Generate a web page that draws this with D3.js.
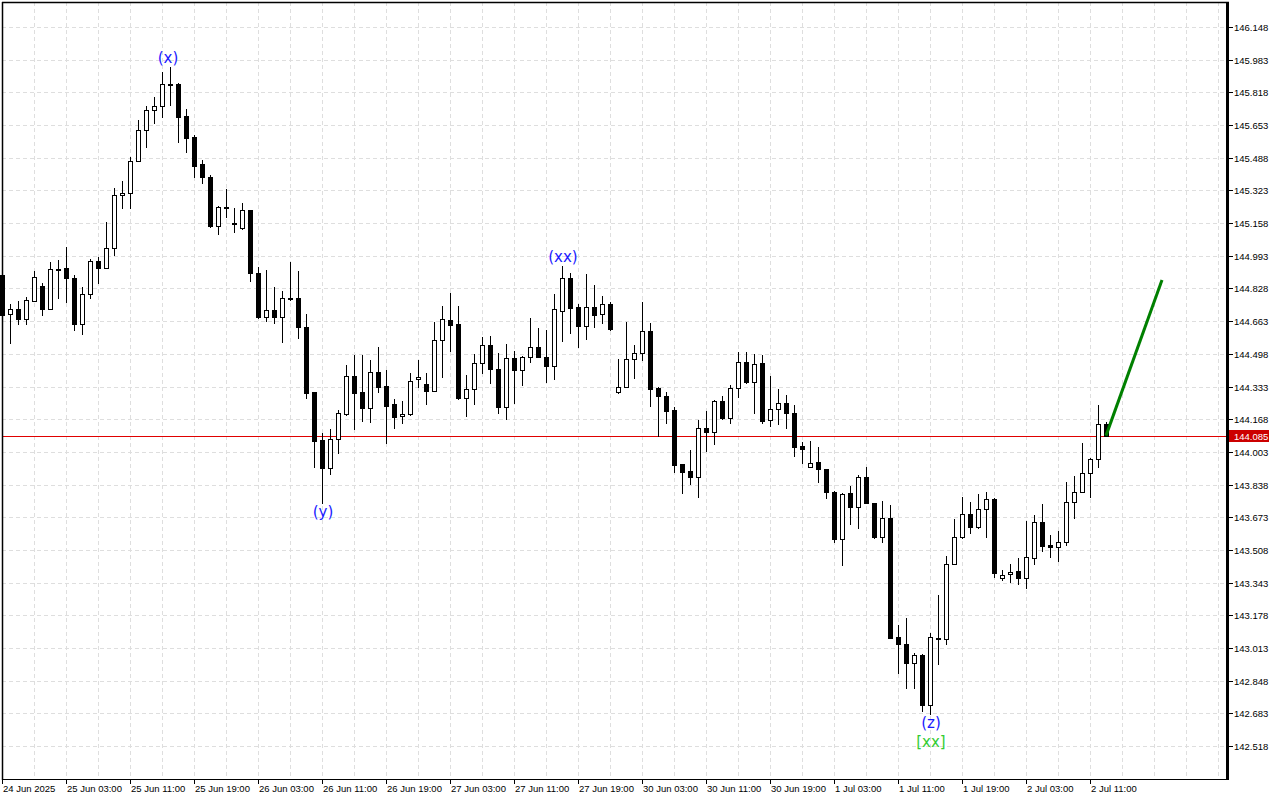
<!DOCTYPE html>
<html><head><meta charset="utf-8">
<script src="https://cdn.jsdelivr.net/npm/d3@7"></script>
<style>html,body{margin:0;padding:0;background:#fff;}svg{display:block;}</style>
</head><body>
<script>
// ---- DATA ----
const openP = [144.896,144.699,144.725,144.674,144.765,144.841,144.725,144.927,144.932,144.881,144.649,144.800,144.967,144.932,145.033,145.300,145.310,145.472,145.628,145.729,145.749,145.860,145.860,145.699,145.593,145.457,145.391,145.144,145.237,145.158,145.133,145.224,144.906,144.684,144.719,144.684,144.780,144.780,144.633,144.306,144.063,143.922,144.068,144.194,144.386,144.306,144.225,144.407,144.336,144.245,144.184,144.194,144.371,144.346,144.311,144.568,144.669,144.649,144.275,144.321,144.452,144.543,144.422,144.230,144.477,144.417,144.482,144.533,144.482,144.437,144.714,144.881,144.735,144.639,144.735,144.699,144.750,144.306,144.331,144.472,144.503,144.613,144.326,144.285,144.215,143.942,143.907,143.877,144.124,144.104,144.260,144.174,144.326,144.457,144.356,144.452,144.164,144.220,144.250,144.199,144.033,143.927,143.952,143.917,143.801,143.563,143.796,143.725,143.877,143.745,143.573,143.669,143.069,143.034,142.938,142.978,142.726,143.059,143.059,143.437,143.573,143.689,143.624,143.715,143.765,143.367,143.387,143.402,143.367,143.468,143.649,143.533,143.523,143.548,143.750,143.801,143.897,143.967,144.144];
const highP = [144.916,144.750,144.765,144.785,144.916,144.856,144.962,144.972,145.038,144.896,144.835,144.977,144.987,145.164,145.335,145.371,145.492,145.679,145.749,145.795,145.921,145.946,145.865,145.734,145.603,145.477,145.401,145.244,145.330,145.234,145.260,145.226,144.937,144.921,144.835,144.815,144.962,144.916,144.699,144.306,144.099,144.119,144.215,144.442,144.492,144.492,144.467,144.533,144.417,144.270,144.260,144.402,144.467,144.402,144.659,144.740,144.805,144.740,144.391,144.497,144.583,144.588,144.503,144.548,144.513,144.487,144.679,144.628,144.618,144.800,144.941,144.906,144.750,144.901,144.846,144.790,144.760,144.472,144.659,144.543,144.760,144.654,144.328,144.306,144.230,143.944,144.013,144.164,144.210,144.265,144.285,144.341,144.508,144.508,144.497,144.492,144.386,144.321,144.290,144.240,144.053,144.058,144.028,143.919,143.806,143.796,143.831,143.887,143.927,143.747,143.755,143.735,143.130,143.165,142.988,142.983,143.089,143.281,143.478,143.664,143.775,143.750,143.791,143.801,143.770,143.407,143.437,143.468,143.654,143.684,143.740,143.583,143.604,143.851,143.881,144.048,143.970,144.240,144.154];
const lowP = [144.679,144.553,144.649,144.649,144.765,144.694,144.722,144.780,144.760,144.618,144.598,144.780,144.856,144.930,144.997,145.234,145.234,145.470,145.543,145.664,145.694,145.755,145.568,145.517,145.391,145.361,145.139,145.103,145.189,145.113,145.130,144.866,144.679,144.664,144.654,144.558,144.770,144.578,144.275,143.927,143.745,143.891,143.998,144.189,144.119,144.159,144.154,144.306,144.048,144.124,144.149,144.189,144.331,144.245,144.309,144.381,144.513,144.270,144.184,144.245,144.402,144.351,144.199,144.169,144.250,144.341,144.457,144.480,144.356,144.371,144.563,144.603,144.533,144.573,144.633,144.654,144.618,144.301,144.329,144.376,144.467,144.235,144.084,144.149,143.902,143.796,143.841,143.776,144.008,144.043,144.169,144.149,144.280,144.351,144.199,144.149,144.134,144.144,144.124,143.982,143.947,143.925,143.851,143.770,143.548,143.432,143.639,143.619,143.743,143.568,143.548,143.062,142.887,142.811,142.811,142.695,142.680,142.933,143.034,143.435,143.570,143.594,143.619,143.573,143.372,143.357,143.347,143.337,143.316,143.437,143.503,143.473,143.452,143.533,143.669,143.799,143.776,143.927,144.083];
const closeP = [144.694,144.725,144.674,144.770,144.886,144.725,144.927,144.925,144.881,144.649,144.800,144.967,144.932,145.033,145.300,145.310,145.472,145.628,145.729,145.749,145.860,145.858,145.694,145.588,145.447,145.391,145.144,145.239,145.240,145.156,145.224,144.906,144.684,144.719,144.684,144.780,144.782,144.633,144.301,144.058,143.922,144.068,144.199,144.386,144.301,144.225,144.407,144.331,144.235,144.179,144.194,144.361,144.381,144.311,144.568,144.674,144.644,144.275,144.321,144.452,144.543,144.422,144.230,144.477,144.417,144.482,144.533,144.482,144.437,144.724,144.881,144.730,144.639,144.735,144.694,144.750,144.623,144.331,144.472,144.503,144.613,144.321,144.285,144.210,143.937,143.902,143.877,144.124,144.104,144.260,144.174,144.326,144.457,144.356,144.447,144.159,144.220,144.250,144.199,144.028,144.018,143.947,143.917,143.801,143.563,143.791,143.725,143.877,143.745,143.573,143.669,143.064,143.034,142.938,142.978,142.726,143.069,143.061,143.437,143.573,143.689,143.624,143.715,143.765,143.392,143.382,143.397,143.367,143.473,143.649,143.528,143.523,143.548,143.750,143.801,143.897,143.967,144.144,144.085];

const priceTicks = [146.148,145.983,145.818,145.653,145.488,145.323,145.158,144.993,144.828,144.663,144.498,144.333,144.168,144.003,143.838,143.673,143.508,143.343,143.178,143.013,142.848,142.683,142.518];
const timeLabelBars = [0,8,16,24,32,40,48,56,64,72,80,88,96,104,112,120,128,136];
const timeLabels = ["24 Jun 2025","25 Jun 03:00","25 Jun 11:00","25 Jun 19:00","26 Jun 03:00","26 Jun 11:00","26 Jun 19:00","27 Jun 03:00","27 Jun 11:00","27 Jun 19:00","30 Jun 03:00","30 Jun 11:00","30 Jun 19:00","1 Jul 03:00","1 Jul 11:00","1 Jul 19:00","2 Jul 03:00","2 Jul 11:00"];
const bidPrice = 144.085;
const waveText = ["(x)","(y)","(xx)","(z)","[xx]"];
const waveBar = [21,40,70,116,116];
const waveAt = ["high","low","high","low","low"];
const waveDegree = ["minor","minor","minor","minor","major"];
const projBars = [138,145];
const projPrices = [144.085,144.871];

// ---- LAYOUT ----
const W=1280,H=800;
const L=2,R=1227,T=2,B=779;
const svg=d3.select("body").append("svg").attr("width",W).attr("height",H);
svg.append("rect").attr("width",W).attr("height",H).attr("fill","#fff");

const x=d3.scaleLinear().domain([0,152]).range([2,1218]);
const y=d3.scaleLinear().domain([142.518,146.148]).range([746,27]);
const font="'Liberation Sans', Arial, sans-serif";

const gridG=svg.append("g");
// horizontal grid
gridG.selectAll("line.h").data(priceTicks).join("line")
  .attr("x1",L).attr("x2",R).attr("y1",d=>Math.round(y(d))+0.5).attr("y2",d=>Math.round(y(d))+0.5)
  .attr("stroke","#dedede").attr("stroke-dasharray","4,3");
// vertical grid every 4 bars
gridG.selectAll("line.v").data(d3.range(4,153,4)).join("line")
  .attr("x1",d=>x(d)+0.5).attr("x2",d=>x(d)+0.5).attr("y1",T).attr("y2",B)
  .attr("stroke","#dedede").attr("stroke-dasharray","4,3");

// bid line
svg.append("line").attr("x1",L).attr("x2",R).attr("y1",Math.round(y(bidPrice))+0.5).attr("y2",Math.round(y(bidPrice))+0.5)
  .attr("stroke","#e00000").attr("stroke-width",1);

// candles
const idx=d3.range(openP.length);
const cg=svg.append("g");
cg.selectAll("line.w").data(idx).join("line")
  .attr("x1",i=>x(i)+0.5).attr("x2",i=>x(i)+0.5)
  .attr("y1",i=>Math.round(y(highP[i]))).attr("y2",i=>Math.round(y(lowP[i]))+1)
  .attr("stroke","#000").attr("stroke-width",1);
cg.selectAll("rect.b").data(idx).join("rect")
  .attr("x",i=>x(i)-2+0.5).attr("width",4)
  .attr("y",i=>Math.round(y(Math.max(openP[i],closeP[i])))+0.5)
  .attr("height",i=>Math.max(1,Math.round(y(Math.min(openP[i],closeP[i])))-Math.round(y(Math.max(openP[i],closeP[i])))))
  .attr("fill",i=>closeP[i]<openP[i]?"#000":"#fff")
  .attr("stroke","#000").attr("stroke-width",1);

// projection line
svg.append("line")
  .attr("x1",x(projBars[0])).attr("y1",y(projPrices[0]))
  .attr("x2",x(projBars[1])).attr("y2",y(projPrices[1]))
  .attr("stroke","#008000").attr("stroke-width",3);

// wave labels
svg.selectAll("text.wave").data(d3.range(waveText.length)).join("text")
  .attr("x",i=>x(waveBar[i])+(waveText[i]==="(x)"?-2:1))
  .attr("y",i=>{
    const bar=waveBar[i];
    if(waveAt[i]==="high") return y(highP[bar])-9+5;
    return y(lowP[bar])+(waveDegree[i]==="major"?28:9)+5;
  })
  .attr("text-anchor","middle")
  .attr("font-family","'DejaVu Sans', sans-serif").attr("font-size",15)
  .attr("fill",i=>waveDegree[i]==="major"?"#33cc33":"#1a1aff")
  .text(i=>waveText[i]);

// frame
svg.append("line").attr("x1",L+0.5).attr("x2",L+0.5).attr("y1",T).attr("y2",B+1).attr("stroke","#000").attr("stroke-width",1.5);
svg.append("line").attr("x1",L).attr("x2",R+2).attr("y1",T+0.5).attr("y2",T+0.5).attr("stroke","#000").attr("stroke-width",1.5);
svg.append("line").attr("x1",L).attr("x2",R+2).attr("y1",B+0.5).attr("y2",B+0.5).attr("stroke","#000").attr("stroke-width",1);
svg.append("line").attr("x1",R+0.5).attr("x2",R+0.5).attr("y1",T).attr("y2",B+1).attr("stroke","#000").attr("stroke-width",3);

// right axis
const ra=svg.append("g");
ra.selectAll("line").data(priceTicks).join("line")
  .attr("x1",R+2).attr("x2",R+6).attr("y1",d=>Math.round(y(d))+0.5).attr("y2",d=>Math.round(y(d))+0.5)
  .attr("stroke","#000");
ra.selectAll("text").data(priceTicks).join("text")
  .attr("x",R+7).attr("y",d=>Math.round(y(d))+4)
  .attr("font-family",font).attr("font-size",9.5).attr("fill","#000")
  .text(d=>d3.format(".3f")(d));
// bid label
const by=Math.round(y(bidPrice));
svg.append("rect").attr("x",R+2).attr("y",by-6).attr("width",40).attr("height",12).attr("fill","#cc0000");
svg.append("text").attr("x",R+7).attr("y",by+4).attr("font-family",font).attr("font-size",9.5).attr("fill","#fff").text(d3.format(".3f")(bidPrice));

// bottom axis
const ba=svg.append("g");
ba.selectAll("line").data(timeLabelBars).join("line")
  .attr("x1",d=>x(d)+0.5).attr("x2",d=>x(d)+0.5).attr("y1",B).attr("y2",B+5)
  .attr("stroke","#000");
ba.selectAll("text").data(d3.range(timeLabels.length)).join("text")
  .attr("x",i=>x(timeLabelBars[i])+1).attr("y",792)
  .attr("font-family",font).attr("font-size",9.5).attr("fill","#000")
  .text(i=>timeLabels[i]);
</script>
</body></html>
